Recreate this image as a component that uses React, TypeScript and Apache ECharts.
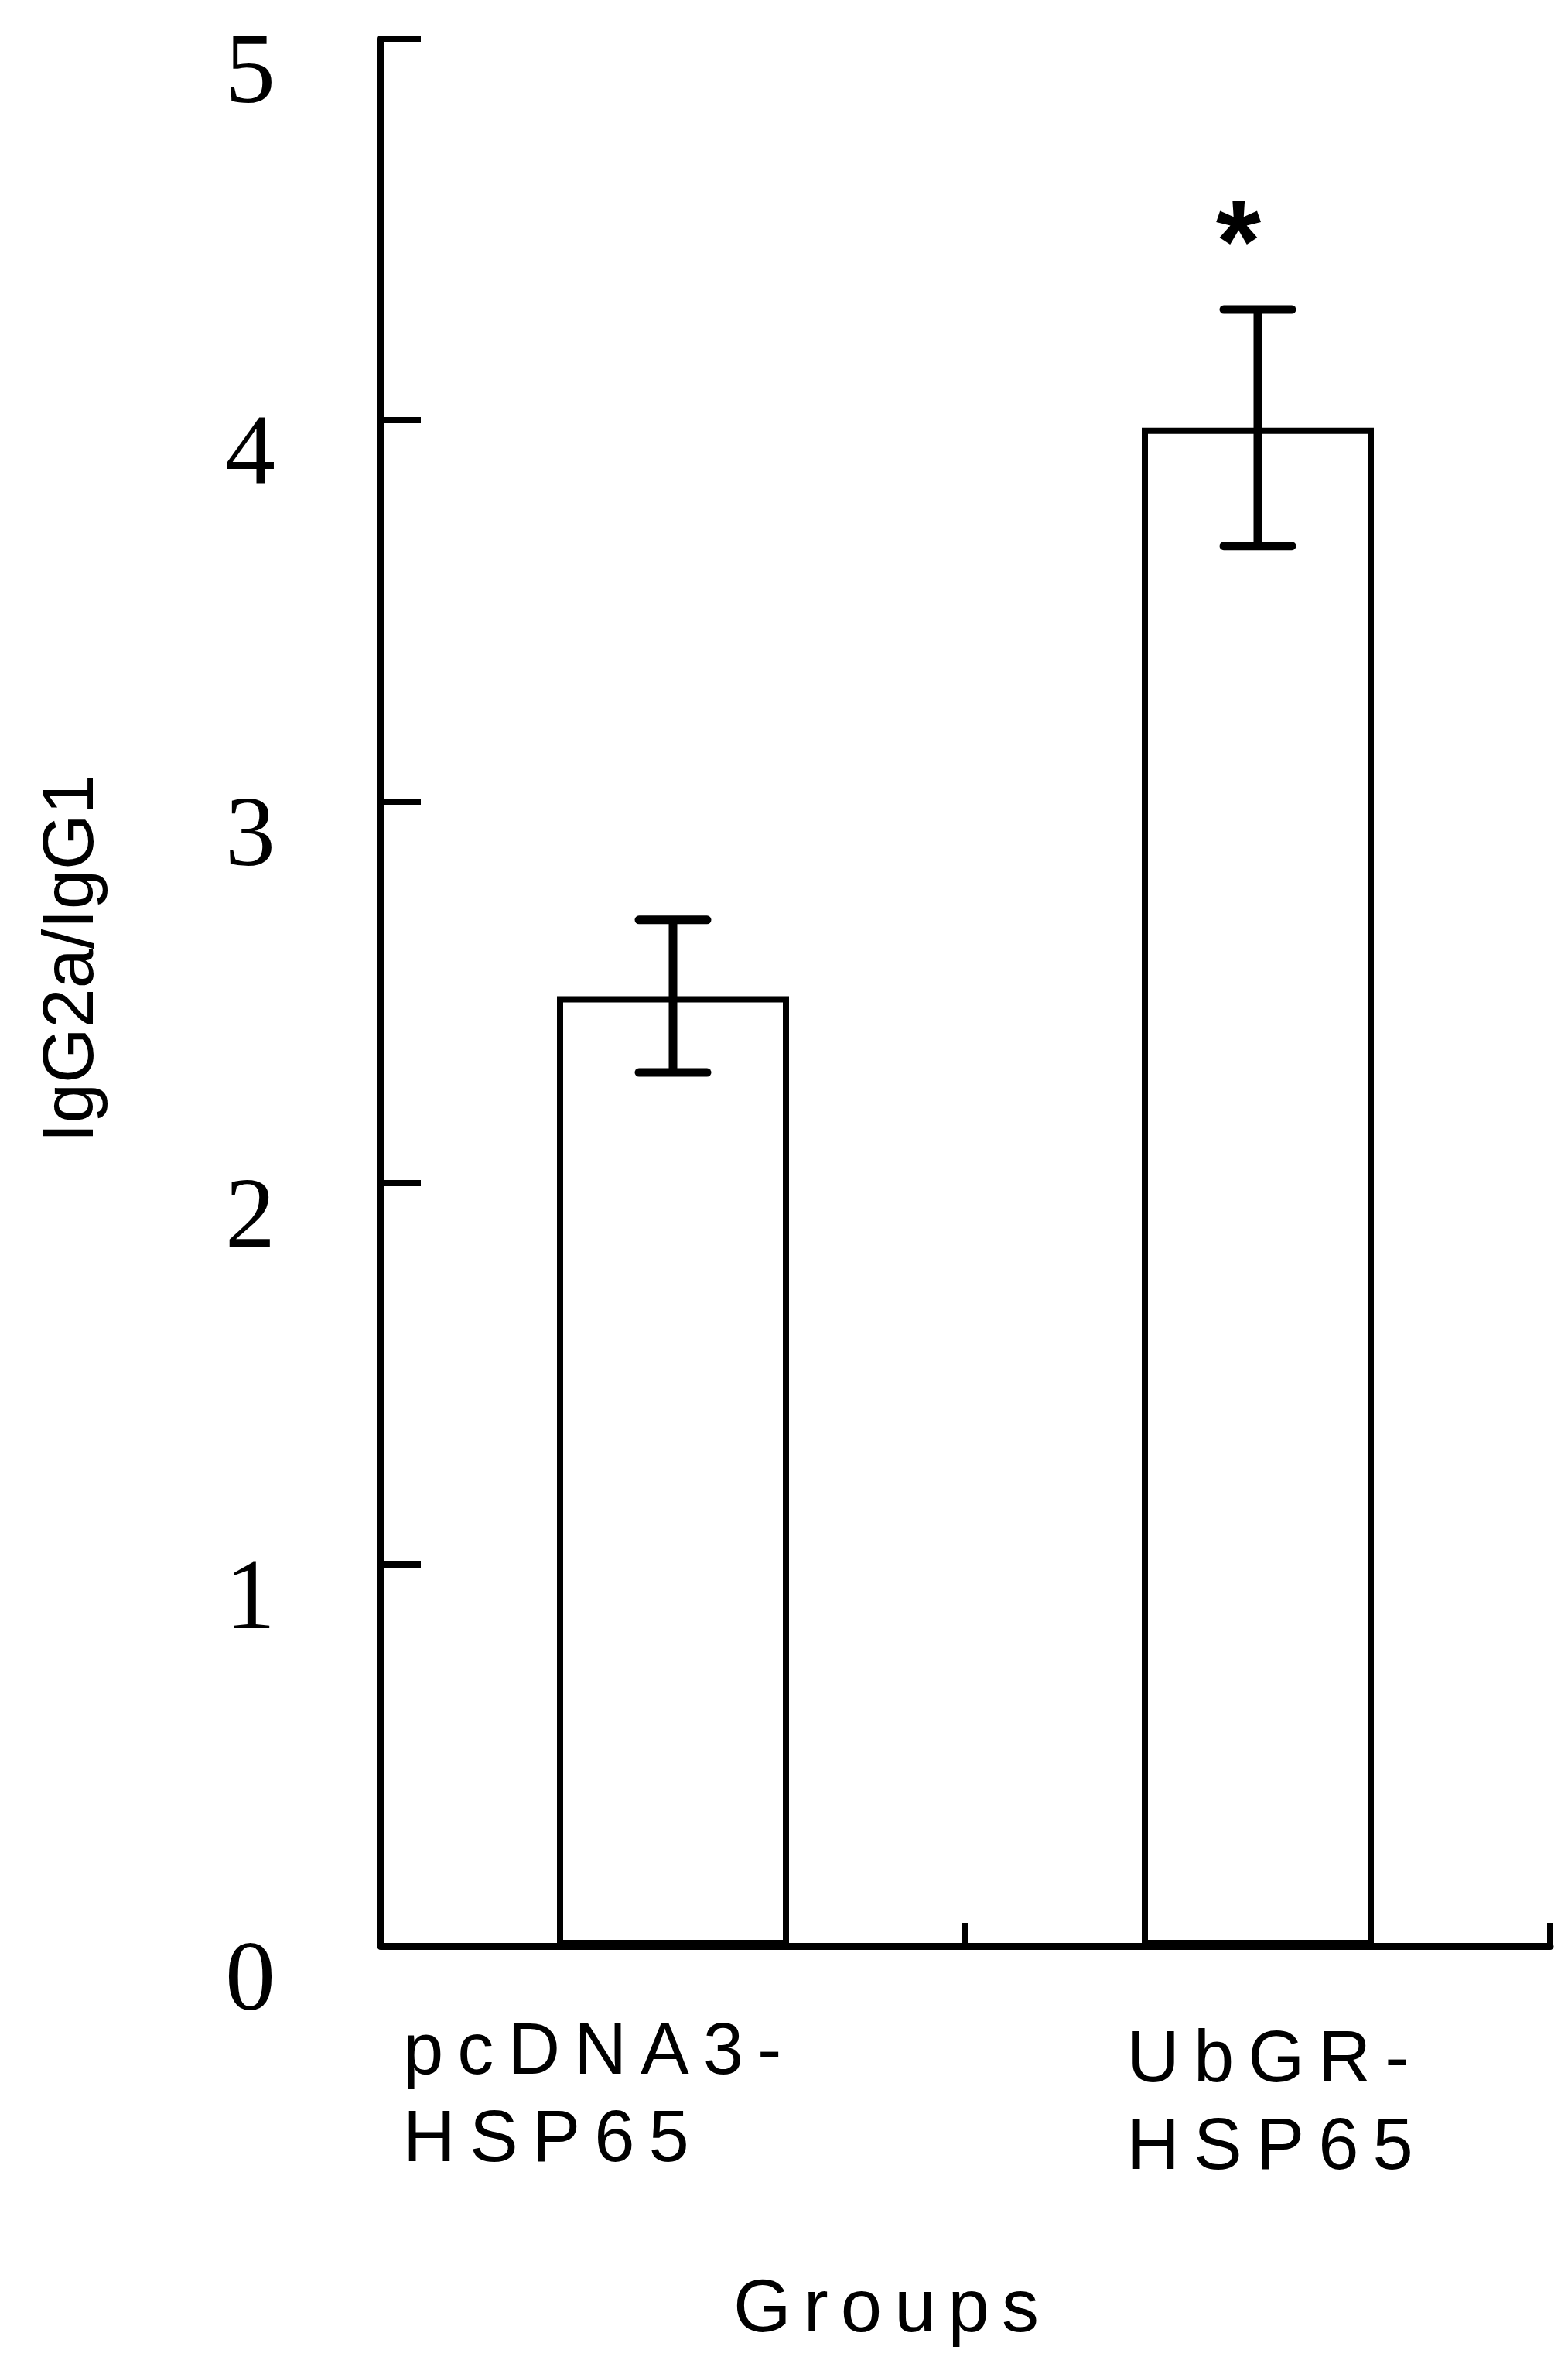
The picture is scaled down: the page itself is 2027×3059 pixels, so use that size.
import React, { useEffect, useRef } from 'react';
import * as echarts from 'echarts';

// ---- data ----
const categories = ['pcDNA3-\nHSP65', 'UbGR-\nHSP65'];
const means = [2.49, 3.98];
const errLow = [2.29, 3.67];
const errHigh = [2.69, 4.29];
const significance = ['', '*'];
const yMin = 0;
const yMax = 5;
const yInterval = 1;
const yAxisTitle = 'IgG2a/IgG1';
const xAxisTitle = 'Groups';

const css =
  'text[style*="LSpacedA"]{letter-spacing:18px}' +
  'text[style*="LSpacedB"]{letter-spacing:16px}';

export default function App() {
  const ref = useRef<HTMLDivElement>(null);

  useEffect(() => {
    if (!ref.current) return;
    const chart = echarts.init(ref.current, null, { renderer: 'svg' });

    const labelPads = [
      [0, 0, 0, -349],
      [10, 0, 0, -169],
    ];

    const option: any = {
      animation: false,
      backgroundColor: '#ffffff',
      grid: { left: 492, top: 50, width: 1512, height: 2465, outerBoundsMode: 'none' },
      xAxis: {
        type: 'category',
        data: categories.map((c, i) => ({
          value: c,
          textStyle: { align: 'left', verticalAlign: 'top', padding: labelPads[i] },
        })),
        boundaryGap: true,
        axisLine: { show: true, lineStyle: { color: '#000', width: 9 } },
        axisTick: { show: true, inside: true, length: 30, interval: 0, lineStyle: { color: '#000', width: 8 } },
        splitLine: { show: false },
        axisLabel: {
          interval: 0,
          margin: 76,
          color: '#000',
          fontFamily: "LSpacedA, 'Liberation Sans', Arial, sans-serif",
          fontSize: 94,
          lineHeight: 113,
          align: 'left',
          verticalAlign: 'top',
        },
        name: xAxisTitle,
        nameLocation: 'middle',
        nameGap: 416,
        nameTextStyle: {
          color: '#000',
          fontFamily: "LSpacedB, 'Liberation Sans', Arial, sans-serif",
          fontSize: 96,
          lineHeight: 96,
          padding: [0, 189, 0, 0],
        },
      },
      yAxis: {
        type: 'value',
        min: yMin,
        max: yMax,
        interval: yInterval,
        axisLine: { show: true, lineStyle: { color: '#000', width: 8 } },
        axisTick: { show: true, inside: true, length: 52, lineStyle: { color: '#000', width: 8 } },
        splitLine: { show: false },
        axisLabel: {
          margin: 136,
          color: '#000',
          fontFamily: "'Liberation Serif', 'DejaVu Serif', serif",
          fontSize: 130,
          align: 'right',
          verticalAlign: 'middle',
          formatter: (v: number) => '{n|' + String(v) + '}',
          rich: {
            n: {
              color: '#000',
              fontFamily: "'Liberation Serif', 'DejaVu Serif', serif",
              fontSize: 130,
              lineHeight: 130,
              padding: [76, 0, 0, 0],
            },
          },
        },
        name: yAxisTitle,
        nameLocation: 'middle',
        nameGap: 358,
        nameRotate: 90,
        nameTextStyle: {
          color: '#000',
          fontFamily: "'Liberation Sans', Arial, sans-serif",
          fontSize: 92,
          lineHeight: 92,
          padding: [0, 0, 0, 87],
        },
      },
      series: [
        {
          type: 'bar',
          barWidth: 300,
          z: 2,
          itemStyle: { color: '#ffffff', borderColor: '#000', borderWidth: 8 },
          data: means.map((m, i) => ({
            value: m,
            label: significance[i]
              ? {
                  show: true,
                  position: 'top',
                  distance: 166,
                  offset: [-25, 0],
                  formatter: significance[i],
                  color: '#000',
                  fontFamily: "'Liberation Sans', Arial, sans-serif",
                  fontWeight: 'bold',
                  fontSize: 150,
                  lineHeight: 150,
                }
              : { show: false },
          })),
        },
        {
          type: 'custom',
          z: 5,
          data: means.map((_, i) => [i, errLow[i], errHigh[i]]),
          renderItem: (params: any, api: any) => {
            const xi = api.value(0);
            const lo = api.coord([xi, api.value(1)]);
            const hi = api.coord([xi, api.value(2)]);
            const hw = 44;
            const capStyle = { stroke: '#000', lineWidth: 11, lineCap: 'round' };
            return {
              type: 'group',
              children: [
                {
                  type: 'line',
                  shape: { x1: hi[0], y1: hi[1], x2: lo[0], y2: lo[1] },
                  style: { stroke: '#000', lineWidth: 11 },
                },
                {
                  type: 'line',
                  shape: { x1: hi[0] - hw, y1: hi[1], x2: hi[0] + hw, y2: hi[1] },
                  style: capStyle,
                },
                {
                  type: 'line',
                  shape: { x1: lo[0] - hw, y1: lo[1], x2: lo[0] + hw, y2: lo[1] },
                  style: capStyle,
                },
              ],
            };
          },
        },
      ],
    };

    chart.setOption(option);
    return () => {
      chart.dispose();
    };
  }, []);

  return (
    <>
      <style>{css}</style>
      <div
        ref={ref}
        style={{ position: 'absolute', left: 0, top: 0, width: 2027, height: 3059, background: '#fff' }}
      />
    </>
  );
}
